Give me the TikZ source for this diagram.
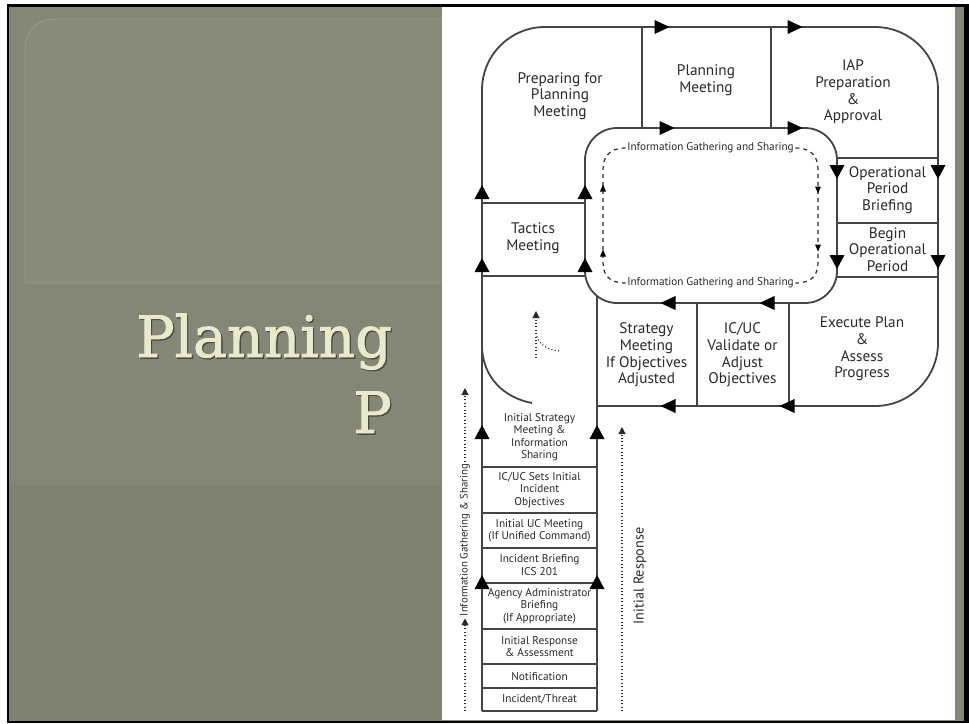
\documentclass[tikz,border=0pt]{standalone}
\usepackage{fontspec}
\setmainfont{PT Sans}
\newfontfamily\slabfont[FakeBold=1.6]{DejaVu Serif}
\usetikzlibrary{arrows.meta}
\definecolor{ink}{HTML}{2A2A2A}
\definecolor{linec}{HTML}{444444}
\definecolor{panelbg}{HTML}{858776}
\definecolor{panelbgdark}{HTML}{7F8171}
\definecolor{panelbox}{HTML}{888A7A}
\definecolor{panelboxedge}{HTML}{9C9E8C}
\definecolor{cream}{HTML}{E9EACB}
\tikzset{
  ln/.style={draw=linec, line width=1.8pt},
  lbl/.style={align=center, text=ink, font=\fontsize{15.3}{16.7}\selectfont, inner sep=0pt},
  sml/.style={align=center, text=ink, font=\fontsize{11.3}{12.4}\selectfont, inner sep=0pt},
  tiny/.style={text=ink, font=\fontsize{11.2}{12}\selectfont, inner sep=1.5pt},
  dotline/.style={draw=ink, line width=1.1pt, dash pattern=on 1.1pt off 2.3pt},
  dashline/.style={draw=ink, line width=1.2pt, dash pattern=on 4pt off 4pt},
  dottip/.style={-{Triangle[width=7pt,length=7pt]}},
  title/.style={anchor=base east, font=\slabfont\fontsize{57}{60}\selectfont, inner sep=0pt},
  pics/aR/.style={code={\fill[black] (-7.5,-7)--(7.5,0)--(-7.5,7)--cycle;}},
  pics/aL/.style={code={\fill[black] (7.5,-7)--(-7.5,0)--(7.5,7)--cycle;}},
  pics/aU/.style={code={\fill[black] (-7.5,7)--(0,-7)--(7.5,7)--cycle;}},
  pics/aD/.style={code={\fill[black] (-7.5,-7)--(0,7)--(7.5,-7)--cycle;}},
  pics/sU/.style={code={\fill[black] (-3,3.5)--(0,-3.5)--(3,3.5)--cycle;}},
  pics/sD/.style={code={\fill[black] (-3,-3.5)--(0,3.5)--(3,-3.5)--cycle;}},
}
\begin{document}
\begin{tikzpicture}[x=1pt,y=-1pt]
\useasboundingbox (0,0) rectangle (969,723);
% page and frame
\fill[white] (0,0) rectangle (969,723);
\fill[black] (7,4) rectangle (969,723);
\fill[panelbg] (9,7) rectangle (964,721);
\fill[panelbgdark] (9,485) rectangle (442,721);
% title box with rounded top-left corner
\filldraw[fill=panelbox, draw=panelboxedge, line width=0.8pt]
  (25,283) -- (25,47) .. controls (25,31.6) and (37.6,19) .. (53,19) -- (470,19) -- (470,283) -- cycle;
% white drawing sheet
\fill[white] (442,7) rectangle (955,720);

% title
\node[title, text=black!45!panelbg] at (393.3,358.3) {Planning};
\node[title, text=cream] (title1) at (392,357) {Planning};
\node[title, text=black!45!panelbg] at (393.3,434.3) {P};
\node[title, text=cream] (title2) at (392,433) {P};

% ---- key points of the loop ----
\coordinate (oTL) at (482,27);
\coordinate (oTR) at (938,27);
\coordinate (oBR) at (938,406);
\coordinate (oBL) at (597,406);
\coordinate (colBL) at (482,711);
\coordinate (colBR) at (597,711);

% outer loop
\draw[ln] (colBL) -- (482,200) [rounded corners=63] -- (oTL) -- (oTR) -- (oBR) -- (oBL);
% inner loop
\draw[ln, rounded corners=32] (585,128) rectangle (837,303);
% column right side
\draw[ln] (colBR) -- (597,296);
\draw[ln] (colBL) -- (colBR);

% dividers along the loop
\draw[ln] (642,27) -- (642,128);
\draw[ln] (771,27) -- (771,128);
\draw[ln] (482,203) -- (585,203);
\draw[ln] (482,276) -- (585,276);
\draw[ln] (837,158) -- (938,158);
\draw[ln] (837,223) -- (938,223);
\draw[ln] (837,277) -- (938,277);
\draw[ln] (697,303) -- (697,406);
\draw[ln] (789,303) -- (789,406);
% column dividers
\foreach \yy in {466.7,513.3,547.7,582.7,629.3,664.3,688.3}
  \draw[ln] (482,\yy) -- (597,\yy);

% curved line in the column
\draw[ln] (482,345) .. controls (482,378) and (505,398) .. (532,403);

% arrowheads on the loop
\pic at (662,27) {aR};
\pic at (795,27) {aR};
\pic at (667,128) {aR};
\pic at (795,128) {aR};
\pic at (837,172) {aD};
\pic at (938,172) {aD};
\pic at (837,262) {aD};
\pic at (938,262) {aD};
\pic at (767,303) {aL};
\pic at (668,303) {aL};
\pic at (787,406) {aL};
\pic at (668,406) {aL};
\pic at (482,192) {aU};
\pic at (585,192) {aU};
\pic at (482,265) {aU};
\pic at (585,265) {aU};
\pic at (482,432) {aU};
\pic at (597,432) {aU};
\pic at (482,582) {aU};
\pic at (597,582) {aU};

% information loop inside
\node[tiny] (infoTop) at (710.5,148) {Information Gathering and Sharing};
\node[tiny] (infoBot) at (710.5,283) {Information Gathering and Sharing};
\draw[dashline] (infoTop.west) .. controls (608,148) and (603,158) .. (603,170) -- (603,262) .. controls (603,274) and (608,283) .. (infoBot.west);
\draw[dashline] (infoTop.east) .. controls (813,148) and (818,158) .. (818,170) -- (818,262) .. controls (818,274) and (813,283) .. (infoBot.east);
\pic at (603,188) {sU};
\pic at (603,253) {sU};
\pic at (818,190) {sD};
\pic at (818,248) {sD};

% small dotted marker in the column
\draw[dotline, dottip] (536,358) -- (536,311);
\draw[dotline] (536,333) .. controls (538,345) and (548,350) .. (560,351);

% side dotted arrows
\node[rotate=90, text=ink, font=\fontsize{10.8}{12}\selectfont, inner sep=2pt] (igs) at (465,540) {Information Gathering \& Sharing};
\draw[dotline, dottip] (465,711) -- (igs.west);
\draw[dotline, dottip] (igs.east) -- (465,388);
\draw[dotline, dottip] (622,711) -- (622,427);
\node[rotate=90, text=ink, font=\fontsize{14.2}{16}\selectfont, inner sep=0pt] (ir) at (640,576) {Initial Response};

% loop labels
\node[lbl] (prep) at (560,96) {Preparing for\\Planning\\Meeting};
\node[lbl] (plan) at (706,80) {Planning\\Meeting};
\node[lbl] (iap) at (853,92) {IAP\\Preparation\\\&\\Approval};
\node[lbl] (opb) at (887.5,190) {Operational\\Period\\Briefing};
\node[lbl] (bop) at (887.5,249.5) {Begin\\Operational\\Period};
\node[lbl] (exec) at (862,349) {Execute Plan\\\&\\Assess\\Progress};
\node[lbl] (icuc) at (742.5,355) {IC/UC\\Validate or\\Adjust\\Objectives};
\node[lbl] (strat) at (646.5,355) {Strategy\\Meeting\\If Objectives\\Adjusted};
\node[lbl] (tact) at (533,238) {Tactics\\Meeting};

% column labels
\node[sml] (iss) at (539.5,437) {Initial Strategy\\Meeting \&\\Information\\Sharing};
\node[sml] (sets) at (539.5,490) {IC/UC Sets Initial\\Incident\\Objectives};
\node[sml] (ucm) at (539.5,530.5) {Initial UC Meeting\\(If Unified Command)};
\node[sml] (brief) at (539.5,565) {Incident Briefing\\ICS 201};
\node[sml] (agency) at (539.5,606) {Agency Administrator\\Briefing\\(If Appropriate)};
\node[sml] (resp) at (539.5,646.5) {Initial Response\\\& Assessment};
\node[sml] (notif) at (539.5,676.3) {Notification};
\node[sml] (threat) at (539.5,699.5) {Incident/Threat};
\end{tikzpicture}
\end{document}
